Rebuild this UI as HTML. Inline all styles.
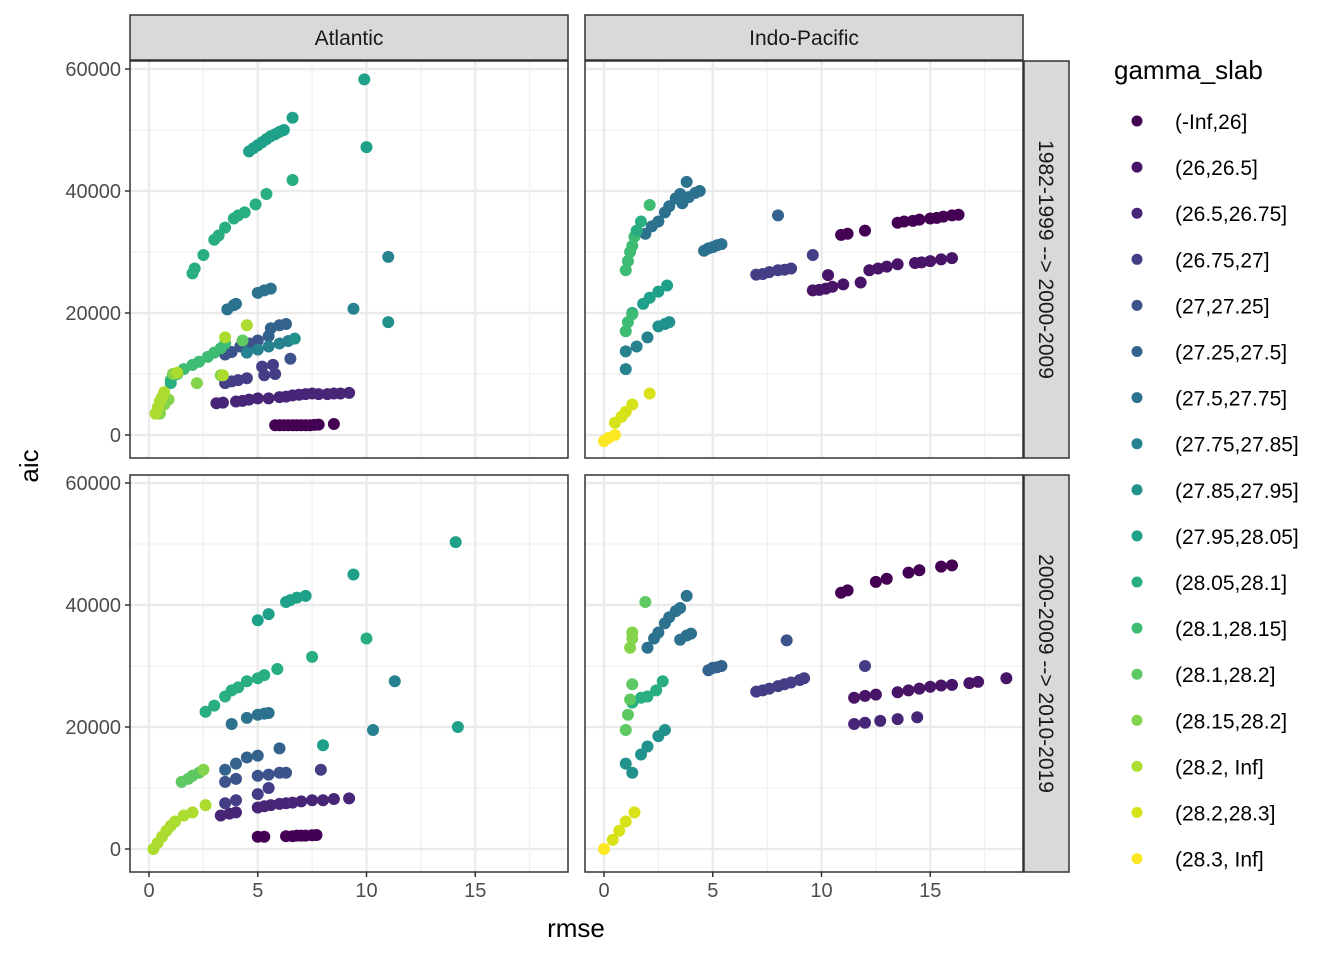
<!DOCTYPE html>
<html><head><meta charset="utf-8"><style>
body{margin:0;background:#fff;}
svg text{font-family:"Liberation Sans",sans-serif;}
</style></head><body>
<svg id="chart" width="1344" height="960" viewBox="0 0 1344 960" xmlns="http://www.w3.org/2000/svg">
<rect width="1344" height="960" fill="#fff"/>
<g id="panels"></g>
<g id="legend"></g>
<text x="576" y="937" font-size="26" text-anchor="middle" fill="#000">rmse</text>
<text x="0" y="0" font-size="26" text-anchor="middle" fill="#000" transform="translate(38,466) rotate(-90)">aic</text>
</svg>
<script>
const colors=["#440154","#481467","#482677","#433E85","#3B528B","#33638D","#2C728E","#26828E","#21918C","#1FA088","#28AE80","#3FBC73","#5EC962","#84D44B","#ADDC30","#D8E219","#FDE725"];
const levels=["(-Inf,26]","(26,26.5]","(26.5,26.75]","(26.75,27]","(27,27.25]","(27.25,27.5]","(27.5,27.75]","(27.75,27.85]","(27.85,27.95]","(27.95,28.05]","(28.05,28.1]","(28.1,28.15]","(28.1,28.2]","(28.15,28.2]","(28.2, Inf]","(28.2,28.3]","(28.3, Inf]"];
const colTitles=["Atlantic","Indo-Pacific"];
const rowTitles=["1982-1999 --> 2000-2009","2000-2009 --> 2010-2019"];
const xTicks=[0,5,10,15];
const yTicks=[0,20000,40000,60000];
const atlTop=[[5.8,1600,0],[6.0,1600,0],[6.2,1600,0],[6.4,1600,0],[6.6,1600,0],[6.8,1600,0],[7.0,1600,0],[7.2,1600,0],[7.4,1600,0],[7.6,1650,0],[7.8,1700,0],[8.5,1800,0],
[3.1,5200,2],[3.4,5300,2],[4.0,5500,2],[4.3,5600,2],[4.6,5800,2],[5.0,6000,2],[5.5,6000,2],[6.0,6200,2],[6.3,6300,2],[6.6,6500,2],[6.9,6600,2],[7.2,6700,2],[7.5,6800,2],[7.8,6700,2],[8.2,6700,2],[8.5,6800,2],[8.8,6800,2],[9.2,6900,2],
[3.5,8500,3],[3.8,8800,3],[4.1,9000,3],[4.5,9300],[5.3,9800,3],[5.8,10000,3],[5.2,11200,3],[5.7,11500,3],[6.5,12500,4],
[3.5,13200,4],[3.8,13600,4],[4.2,14500,4],[4.6,15000,4],[5.0,15500,4],[5.6,17500,5],[6.0,18000,5],[6.3,18200,5],[5.5,16200,5],
[3.6,20600,6],[3.9,21300,6],[4.0,21500,6],[5.0,23300,6],[5.3,23700,6],[5.6,24000,6],[9.4,20700,7],[11,29200,7],[11,18500,8],
[4.5,13500,7],[5,14000,7],[5.5,14500,7],[6,15000,7],[6.4,15400,7],[6.7,15800,8],
[2,26500,10],[2.1,27300,10],[2.5,29500,10],[3,32000,10],[3.2,32700,10],[3.5,34000,10],[3.9,35500,10],[4.1,36000,10],[4.4,36500,10],[4.9,37800,10],[5.4,39500,10],[6.6,41800,10],
[4.6,46500,9],[4.8,47000,9],[5.0,47500,9],[5.2,48000,9],[5.4,48500,9],[5.6,49000,9],[5.8,49300,9],[6.0,49700,9],[6.2,50000,9],[6.6,52000,9],[9.9,58300,9],[10,47200,9],
[1,9000,11],[1.3,10000,11],[1.6,10800,11],[2,11500,11],[2.3,12000,11],[2.7,12800,11],[3,13500,11],[3.3,14200,11],[3.5,15000,11],[4.3,15500,12],[1.0,8500,10],
[0.5,3500,13],[0.7,5000,13],[0.9,5800,13],[2.2,8500,13],[3.3,9800,13],[1.1,10000,13],
[0.3,3500,14],[0.4,4500,14],[0.5,5500,14],[0.6,6200,14],[0.7,7000,14],[1.3,10200,14],[3.5,16000,14],[4.5,18000,14],[3.4,9800,14]];
const indTop=[[10.9,32800,0],[11.2,33000,0],[12,33500,0],[13.5,34800,0],[13.8,35000,0],[14.2,35100,0],[14.5,35300,0],[15,35500,0],[15.3,35600,0],[15.6,35800,0],[16,36000,0],[16.3,36100,0],
[9.6,23700,1],[9.9,23800,1],[10.2,24000,1],[10.5,24300,1],[11,24700,1],[11.8,25000,1],[12.2,27000,1],[12.6,27300,1],[13,27600,1],[13.5,28000,1],[14.3,28200,1],[14.6,28300,1],[15,28500,1],[15.5,28800,1],[16,29000,1],[10.3,26200,1],
[7,26300,3],[7.3,26400,3],[7.6,26700,3],[8,27000,3],[8.3,27100,3],[8.6,27300,3],[9.6,29500,3],[8,36000,5],
[4.6,30200,6],[4.8,30600,6],[5,30800,6],[5.2,31100,6],[5.4,31300,6],
[1.9,33000,6],[2.2,34200,6],[2.5,35000,6],[2.8,36500,6],[3,37500,6],[3.3,38800,6],[3.5,39500,6],[3.8,41500,6],[3.6,38000,6],[3.9,39000,6],[4.2,39700,6],[4.4,40000,6],
[1.5,14500,7],[2,16000,7],[2.5,17800,8],[2.8,18200,8],[3,18500,8],[1,10800,7],[1,13700,7],
[1.3,20000,9],[1.8,21500,9],[2.1,22500,9],[2.5,23500,9],[2.9,24500,9],
[1,17000,11],[1.1,18500,11],[1.3,19800,11],[1,27000,11],[1.1,28500,11],[1.2,30000,11],[1.3,31000,11],[1.4,32500,11],[1.5,33500,10],[1.7,35000,10],[2.1,37700,11],
[0,-1000,16],[0.2,-500,16],[0.5,0,16],[0.5,2000,15],[0.8,3000,15],[1,3800,15],[1.3,5000,15],[2.1,6800,15]];
const atlBot=[[5,2000,0],[5.3,2000,0],[6.3,2100,0],[6.6,2100,0],[6.8,2200,0],[7.0,2200,0],[7.2,2200,0],[7.5,2250,0],[7.7,2300,0],
[3.3,5500,2],[3.7,5800,2],[4,6000,2],[5,6800,2],[5.3,7000,2],[5.6,7200,2],[6,7400,2],[6.3,7500,2],[6.6,7600,2],[7,7800,2],[7.5,8000,2],[8,8000,2],[8.5,8200,2],[9.2,8300,2],
[3.5,7500,3],[4,8000,3],[5,9000,3],[5.5,10000,3],[7.9,13000,3],
[3.5,11000,4],[4,11500,4],[5,12000,4],[5.5,12200,4],[6,12500,4],[6.3,12500,4],
[3.5,13000,5],[4,14000,5],[4.5,15000,5],[5,15300,5],[6,16500,5],
[3.8,20500,6],[4.5,21500,6],[5,22000,6],[5.3,22200,6],[5.5,22300,6],[10.3,19500,7],
[11.3,27500,7],[8,17000,9],[14.2,20000,9],
[9.4,45000,9],[14.1,50300,9],[10,34500,10],[7.5,31500,10],[5,37500,9],[5.5,38500,9],[6.3,40500,9],[6.5,40800,9],[6.8,41200,9],[7.2,41500,9],
[2.6,22500,10],[3,23500,10],[3.5,25000,10],[3.8,26000,10],[4.1,26500,10],[4.5,27500,10],[5,28000,10],[5.3,28500,10],[5.9,29500,10],
[1.5,11000,12],[1.8,11500,12],[2,12000,12],[2.3,12500,12],[2.5,13000,13],
[0.2,0,14],[0.4,1000,14],[0.6,2000,14],[0.8,3000,14],[1.0,3800,14],[1.2,4500,14],[1.6,5500,14],[2,6000,14],[2.6,7200,14]];
const indBot=[[10.9,42000,0],[11.2,42400,0],[12.5,43800,0],[13,44300,0],[14,45300,0],[14.5,45700,0],[15.5,46300,0],[16,46500,0],
[11.5,24800,1],[12,25100,1],[12.5,25300,1],[13.5,25700,1],[14,26000,1],[14.5,26300,1],[15,26600,1],[15.5,26800,1],[16,26900,1],[16.8,27200,1],[17.2,27400,1],[18.5,28000,1],
[11.5,20500,2],[12,20700,2],[12.7,21000,2],[13.5,21300,2],[14.4,21600,2],[12,30000,3],
[7,25800,3],[7.3,26000,3],[7.6,26300,3],[8,26700,3],[8.3,27000,3],[8.6,27300,3],[9,27700,3],[9.2,28000,3],[8.4,34200,4],
[4.8,29300,5],[5,29700,5],[5.2,29800,5],[5.4,30000,5],
[2,33000,6],[2.3,34500,6],[2.5,35500,6],[2.8,37000,6],[3,38000,6],[3.3,39000,6],[3.5,39500,6],[3.8,41500,6],[3.5,34300,6],[3.8,35000,6],[4,35300,6],
[1.3,12500,8],[1.7,15500,8],[2,16800,8],[2.5,18500,8],[2.8,19500,8],[1,14000,8],
[1.3,24000,10],[1.7,24800,10],[2,25000,10],[2.4,26000,10],[2.7,27500,10],
[1,19500,12],[1.1,22000,12],[1.2,24500,12],[1.3,27000,12],[1.2,33000,13],[1.3,34500,13],[1.3,35500,13],[1.9,40500,12],
[0,0,16],[0.4,1500,15],[0.7,3000,15],[1,4500,15],[1.4,6000,15]];
const panelData=[[atlTop,indTop],[atlBot,indBot]];

const NS="http://www.w3.org/2000/svg";
function mk(tag,attrs,parent){const e=document.createElementNS(NS,tag);for(const k in attrs)e.setAttribute(k,attrs[k]);parent.appendChild(e);return e;}
const colX=[130,585], colW=438, rowY=[61,475], rowH=397;
function xScale(c,v){return colX[c]+19+v*21.75;}
function yScale(r,v){return rowY[r]+374-v*0.0061;}
const panels=document.getElementById('panels');
for(let r=0;r<2;r++){for(let c=0;c<2;c++){
  const g=mk('g',{},panels);
  
  
  mk('rect',{x:colX[c],y:rowY[r],width:colW,height:rowH,fill:'#fff'},g);
  for(const v of [2.5,7.5,12.5,17.5]){const x=xScale(c,v);mk('line',{x1:x,x2:x,y1:rowY[r],y2:rowY[r]+rowH,stroke:'#f0f0f0','stroke-width':1.2},g);}
  for(const v of [10000,30000,50000]){const y=yScale(r,v);mk('line',{x1:colX[c],x2:colX[c]+colW,y1:y,y2:y,stroke:'#f0f0f0','stroke-width':1.2},g);}
  for(const v of xTicks){const x=xScale(c,v);mk('line',{x1:x,x2:x,y1:rowY[r],y2:rowY[r]+rowH,stroke:'#ebebeb','stroke-width':2.4},g);}
  for(const v of yTicks){const y=yScale(r,v);mk('line',{x1:colX[c],x2:colX[c]+colW,y1:y,y2:y,stroke:'#ebebeb','stroke-width':2.4},g);}
  const pts=panelData[r][c];
  for(const p of pts){
    const gi=(p[2]===undefined)?3:p[2];
    const ci=mk('circle',{cx:xScale(c,p[0]),cy:yScale(r,p[1]),r:6,fill:colors[gi]},g);
    
    
  }
  mk('rect',{x:colX[c],y:rowY[r],width:colW,height:rowH,fill:'none',stroke:'#333','stroke-width':1.5},g);
  if(c===0){for(const v of yTicks){const y=yScale(r,v);mk('line',{x1:colX[0]-5,x2:colX[0],y1:y,y2:y,stroke:'#333','stroke-width':1.5},g);
    const t=mk('text',{x:colX[0]-9,y:y+7,'font-size':20,'text-anchor':'end',fill:'#4d4d4d'},g);t.textContent=v;
    }}
  if(r===1){for(const v of xTicks){const x=xScale(c,v);mk('line',{x1:x,x2:x,y1:rowY[1]+rowH,y2:rowY[1]+rowH+5,stroke:'#333','stroke-width':1.5},g);
    const t=mk('text',{x:x,y:rowY[1]+rowH+25,'font-size':20,'text-anchor':'middle',fill:'#4d4d4d'},g);t.textContent=v;
    }}
}}
for(let c=0;c<2;c++){
  const s=mk('g',{},panels);
  
  
  mk('rect',{x:colX[c],y:15,width:colW,height:45,fill:'#d9d9d9',stroke:'#333','stroke-width':1.5},s);
  const t=mk('text',{x:colX[c]+colW/2,y:45,'font-size':21,'text-anchor':'middle',fill:'#1a1a1a'},s);t.textContent=colTitles[c];
}
for(let r=0;r<2;r++){
  const s=mk('g',{},panels);
  
  
  mk('rect',{x:1024,y:rowY[r],width:45,height:rowH,fill:'#d9d9d9',stroke:'#333','stroke-width':1.5},s);
  const t=mk('text',{x:0,y:0,'font-size':21,'text-anchor':'middle',fill:'#1a1a1a',transform:`translate(1039,${rowY[r]+rowH/2}) rotate(90)`},s);t.textContent=rowTitles[r];
}
const lg=document.getElementById('legend');
const lt=mk('text',{x:1114,y:79,'font-size':26,fill:'#000'},lg);lt.textContent='gamma_slab';

for(let i=0;i<levels.length;i++){
  const y=121+i*46.1;
  const e=mk('g',{},lg);
  
  
  mk('circle',{cx:1137,cy:y,r:5.5,fill:colors[i]},e);
  const t=mk('text',{x:1175,y:y+8,'font-size':21,fill:'#000'},e);t.textContent=levels[i];
}
</script>
</body></html>
